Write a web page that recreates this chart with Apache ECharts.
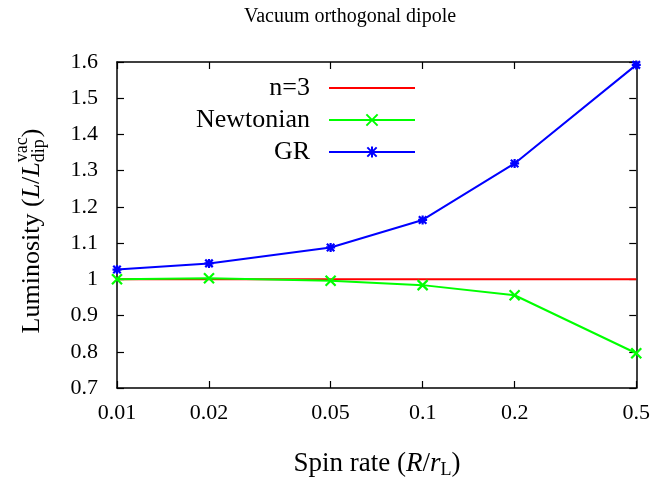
<!DOCTYPE html>
<html><head><meta charset="utf-8">
<script src="https://cdn.jsdelivr.net/npm/echarts@6/dist/echarts.min.js"></script>
<style>html,body{margin:0;padding:0;background:#fff}#c{width:653px;height:487px}</style>
</head><body><div id="c"></div>
<script>
const spin = [0.01, 0.02, 0.05, 0.1, 0.2, 0.5];
const n3 = [1, 1, 1, 1, 1, 1];
const newtonian = [1.0, 1.003, 0.996, 0.984, 0.956, 0.796];
const gr = [1.027, 1.044, 1.088, 1.164, 1.32, 1.592];
const xTicks = [0.01, 0.02, 0.05, 0.1, 0.2, 0.5];
const yTicks = [0.7, 0.8, 0.9, 1, 1.1, 1.2, 1.3, 1.4, 1.5, 1.6];

const FF = '"Liberation Serif", "DejaVu Serif", serif';
const TICK_FS = 22, LEG_FS = 26, NAME_FS = 27, SMALL_FS = 18;
const ctx = document.createElement('canvas').getContext('2d');
function mw(font, t){ ctx.font = font; return ctx.measureText(t).width; }
const fN = NAME_FS + 'px ' + FF, fI = 'italic ' + NAME_FS + 'px ' + FF, fS = SMALL_FS + 'px ' + FF;
const fNy = LEG_FS + 'px ' + FF, fIy = 'italic ' + LEG_FS + 'px ' + FF;

function buildParts(parts){
  let x = 0; const kids = [];
  parts.forEach(p => {
    if (p.stack) {
      let w = 0;
      p.stack.forEach(s => {
        kids.push({type:'text', x: x, y: s.dy, style:{text:s.t, font:s.f, fill:'#000', align:'left', verticalAlign:'middle'}});
        w = Math.max(w, mw(s.f, s.t));
      });
      x += w;
    } else {
      kids.push({type:'text', x: x, y: p.dy||0, style:{text:p.t, font:p.f, fill:'#000', align:'left', verticalAlign:'middle'}});
      x += mw(p.f, p.t);
    }
  });
  kids.forEach(k => k.x -= x/2);
  return kids;
}

const yLabel = buildParts([
  {t:'Luminosity (', f:fNy}, {t:'L', f:fIy}, {t:'/', f:fNy}, {t:'L', f:fIy},
  {stack:[{t:'vac', f:fS, dy:-10}, {t:'dip', f:fS, dy:7}]}, {t:')', f:fNy}
]);
const xLabel = buildParts([
  {t:'Spin rate (', f:fN}, {t:'R', f:fI}, {t:'/', f:fN}, {t:'r', f:fI},
  {t:'L', f:fS, dy:6}, {t:')', f:fN}
]);

const crossPath = 'path://M0,0L10,10M10,0L0,10';
const starPath = 'path://M0,0L10,10M10,0L0,10M5,-1L5,11M-1,5L11,5';

const chart = echarts.init(document.getElementById('c'), null, {renderer:'canvas'});
const axisCommon = {
  axisLine:{show:true, onZero:false, lineStyle:{color:'#000', width:1.5}},
  splitLine:{show:false}
};
const legendBase = {
  orient:'horizontal', align:'right', right:232, itemWidth:86, itemHeight:14,
  textStyle:{fontFamily:FF, fontSize:LEG_FS, color:'#000', padding:[0,14,0,0]}
};
chart.setOption({
  animation:false,
  title:{text:'Vacuum orthogonal dipole', left:345, top:2, textAlign:'center',
    textStyle:{fontFamily:FF, fontSize:20, fontWeight:'normal', color:'#000'}},
  grid:{left:117, right:16, top:62, bottom:99},
  legend:[
    Object.assign({}, legendBase, {data:['n=3'], top:70, itemStyle:{opacity:0}}),
    Object.assign({}, legendBase, {data:['Newtonian'], top:102}),
    Object.assign({}, legendBase, {data:['GR'], top:134})
  ],
  xAxis:[
    Object.assign({}, axisCommon, {type:'log', logBase:10, min:0.01, max:0.5, position:'bottom',
      axisTick:{show:true, inside:true, length:7, lineStyle:{color:'#000', width:1.2}, customValues:xTicks},
      axisLabel:{show:true, margin:14, fontFamily:FF, fontSize:TICK_FS, color:'#000', customValues:xTicks,
        formatter:v => String(+v.toPrecision(3))}}),
    Object.assign({}, axisCommon, {type:'log', logBase:10, min:0.01, max:0.5, position:'top',
      axisTick:{show:true, inside:true, length:7, lineStyle:{color:'#000', width:1.2}, customValues:xTicks},
      axisLabel:{show:false}})
  ],
  yAxis:[
    Object.assign({}, axisCommon, {type:'value', min:0.7, max:1.6, position:'left',
      axisTick:{show:true, inside:true, length:7, lineStyle:{color:'#000', width:1.2}, customValues:yTicks},
      axisLabel:{show:true, margin:19, fontFamily:FF, fontSize:TICK_FS, color:'#000', customValues:yTicks,
        formatter:v => String(+v.toFixed(1))}}),
    Object.assign({}, axisCommon, {type:'value', min:0.7, max:1.6, position:'right',
      axisTick:{show:true, inside:true, length:7, lineStyle:{color:'#000', width:1.2}, customValues:yTicks},
      axisLabel:{show:false}})
  ],
  series:[
    {name:'n=3', type:'line', data:spin.map((x,i)=>[x,n3[i]]), symbol:'none',
      color:'#ff0000', lineStyle:{width:2, color:'#ff0000'}},
    {name:'Newtonian', type:'line', data:spin.map((x,i)=>[x,newtonian[i]]), symbol:crossPath, symbolSize:10,
      color:'#00ff00', lineStyle:{width:2, color:'#00ff00'},
      itemStyle:{color:'#00ff00', borderColor:'#00ff00', borderWidth:2.2}},
    {name:'GR', type:'line', data:spin.map((x,i)=>[x,gr[i]]), symbol:starPath, symbolSize:9,
      color:'#0000ff', lineStyle:{width:2, color:'#0000ff'},
      itemStyle:{color:'#0000ff', borderColor:'#0000ff', borderWidth:2.2}}
  ],
  graphic:[
    {type:'group', x:32, y:231, rotation:Math.PI/2, children:yLabel},
    {type:'group', x:377, y:464, children:xLabel}
  ]
});
</script></body></html>
